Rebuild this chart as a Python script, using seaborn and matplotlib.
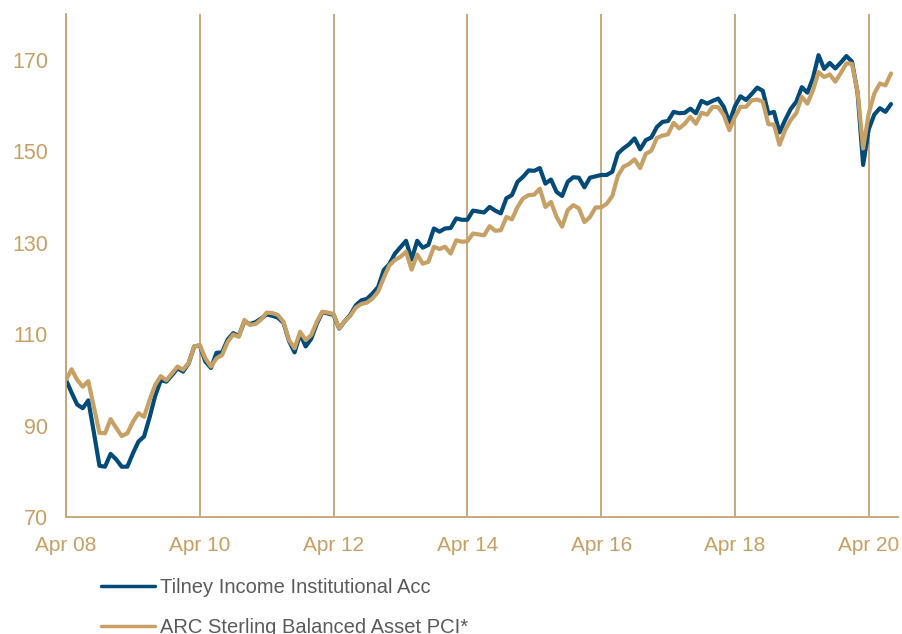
import numpy as np
import pandas as pd
import seaborn as sns
import matplotlib
matplotlib.use("Agg")
import matplotlib.pyplot as plt

# ---------------- data (monthly, Apr 2008 = index 0) ----------------
tilney = [
    100, 97.2, 94.6, 93.8, 95.5, 88.5, 81.2, 81.0, 83.8, 82.6, 81.0, 81.0, 83.9, 86.5, 87.6, 91.8,
    96.5, 99.9, 99.6, 101.0, 102.5, 101.8, 103.6, 107.3, 107.5,
    104.0, 102.6, 105.9, 106.0, 108.8, 110.2, 109.6, 112.8, 112.2, 112.6, 113.4, 114.3, 114.0, 113.6,
    112.5, 108.5, 106.0, 110.0, 107.3, 109.0, 112.3, 114.8, 114.5, 114.2,
    111.2, 112.8, 114.2, 116.3, 117.4, 117.7, 118.9, 120.3, 124.0, 125.3, 127.6, 129.0, 130.4, 126.3,
    130.4, 128.9, 129.5, 133.1, 132.4, 133.1, 133.2, 135.3, 135.0, 135.0,
    137.0, 136.8, 136.6, 137.8, 137.0, 136.4, 139.7, 140.4, 143.3, 144.4, 145.8, 145.7, 146.3, 142.9,
    143.8, 141.1, 140.2, 143.3, 144.3, 144.2, 142.1, 144.2, 144.5, 144.8,
    144.8, 145.5, 149.5, 150.6, 151.5, 152.8, 150.4, 152.4, 153.0, 155.3, 156.4, 156.6, 158.6, 158.3,
    158.4, 159.3, 158.3, 161.0, 160.4, 161.0, 161.5, 159.7, 156.3, 159.8,
    162.0, 161.2, 162.5, 163.9, 163.2, 158.2, 158.6, 154.1, 156.8, 159.2, 160.8, 164.0, 162.8, 166.0,
    171.0, 168.0, 169.3, 168.1, 169.4, 170.8, 169.6, 162.8, 147.0, 154.8, 158.0, 159.4, 158.6, 160.3,
]
arc = [
    100, 102.3, 100.0, 98.5, 99.7, 94.0, 88.4, 88.3, 91.4, 89.5, 87.7, 88.3, 90.8, 92.7, 91.9, 95.6,
    98.9, 100.8, 99.9, 101.4, 102.9, 102.2, 103.7, 107.3, 107.6,
    104.7, 102.9, 104.7, 105.4, 108.3, 109.9, 109.4, 113.1, 112.0, 112.2, 113.2, 114.7, 114.6, 114.2,
    112.7, 108.7, 106.9, 110.5, 108.7, 109.8, 112.7, 114.9, 114.7, 114.4,
    111.2, 112.8, 114.0, 115.8, 116.6, 116.9, 117.8, 119.3, 122.3, 125.0, 126.2, 126.9, 128.0, 124.1,
    127.4, 125.4, 125.8, 129.1, 128.6, 129.1, 127.6, 130.5, 130.2, 130.3,
    132.0, 131.8, 131.6, 133.6, 132.6, 132.7, 135.6, 135.1, 137.8, 139.7, 140.4, 140.5, 141.8, 137.8,
    138.9, 135.6, 133.5, 137.1, 138.2, 137.5, 134.5, 135.6, 137.7, 137.7,
    138.5, 140.2, 144.6, 146.6, 147.2, 148.2, 146.3, 149.4, 150.1, 152.9, 153.4, 153.7, 156.2, 155.0,
    156.0, 157.5, 156.0, 158.4, 158.0, 159.7, 159.6, 157.9, 154.6, 157.5,
    159.7, 159.7, 161.1, 161.3, 160.8, 155.9, 155.8, 151.4, 154.6, 156.8, 158.3, 161.9, 160.4, 163.3,
    167.3, 166.2, 166.8, 165.2, 167.1, 169.2, 169.1, 163.0, 150.6, 158.2, 162.6, 164.8, 164.4, 167.0,
]
series_names = ["Tilney Income Institutional Acc", "ARC Sterling Balanced Asset PCI*"]
x_tick_labels = ["Apr 08", "Apr 10", "Apr 12", "Apr 14", "Apr 16", "Apr 18", "Apr 20"]
y_ticks = [70, 90, 110, 130, 150, 170]

months = np.arange(len(tilney))
df = pd.concat([
    pd.DataFrame({"month": months, "value": tilney, "series": series_names[0]}),
    pd.DataFrame({"month": months, "value": arc, "series": series_names[1]}),
])

NAVY = "#024a78"
TAN = "#c6a064"
GRID = "#c4a272"
TEXT_GREY = "#5a5a5a"

sns.set_theme(style="white")
plt.rcParams["font.family"] = ["Liberation Sans", "DejaVu Sans"]

fig = plt.figure(figsize=(9.03, 6.34), dpi=100)
ax = fig.add_axes([66 / 903, (634 - 517) / 634, (897.7 - 66) / 903, (517 - 14) / 634])

sns.lineplot(data=df, x="month", y="value", hue="series", hue_order=series_names,
             palette=[NAVY, TAN], linewidth=3.0, ax=ax, legend=True)

ax.set_xlim(0, 149.2)
ax.set_ylim(70, 180)
ax.set_xticks(np.arange(0, 24 * len(x_tick_labels), 24))
ax.set_xticklabels(x_tick_labels)
ax.set_yticks(y_ticks)
ax.set_xlabel("")
ax.set_ylabel("")

ax.grid(False)
for xv in ax.get_xticks():
    ax.axvline(xv, color=GRID, lw=1.3, zorder=0.5)

for s in ["top", "right"]:
    ax.spines[s].set_visible(False)
for s in ["left", "bottom"]:
    ax.spines[s].set_color(GRID)
    ax.spines[s].set_linewidth(1.3)

ax.tick_params(axis="both", length=0, colors=TAN)
ax.tick_params(axis="y", pad=13, labelsize=15.5)
ax.tick_params(axis="x", pad=14, labelsize=15)

handles, labels = ax.get_legend_handles_labels()
ax.get_legend().remove()
leg = fig.legend(handles, labels, loc="upper left", bbox_to_anchor=(101 / 903, 1 - 578 / 634),
                 frameon=False, fontsize=14.5, handlelength=2.7, handletextpad=0.22,
                 labelspacing=1.05, borderpad=0, borderaxespad=0)
for line in leg.get_lines():
    line.set_linewidth(2.5)
for t in leg.get_texts():
    t.set_color(TEXT_GREY)

fig.savefig("out.png", dpi=100)
